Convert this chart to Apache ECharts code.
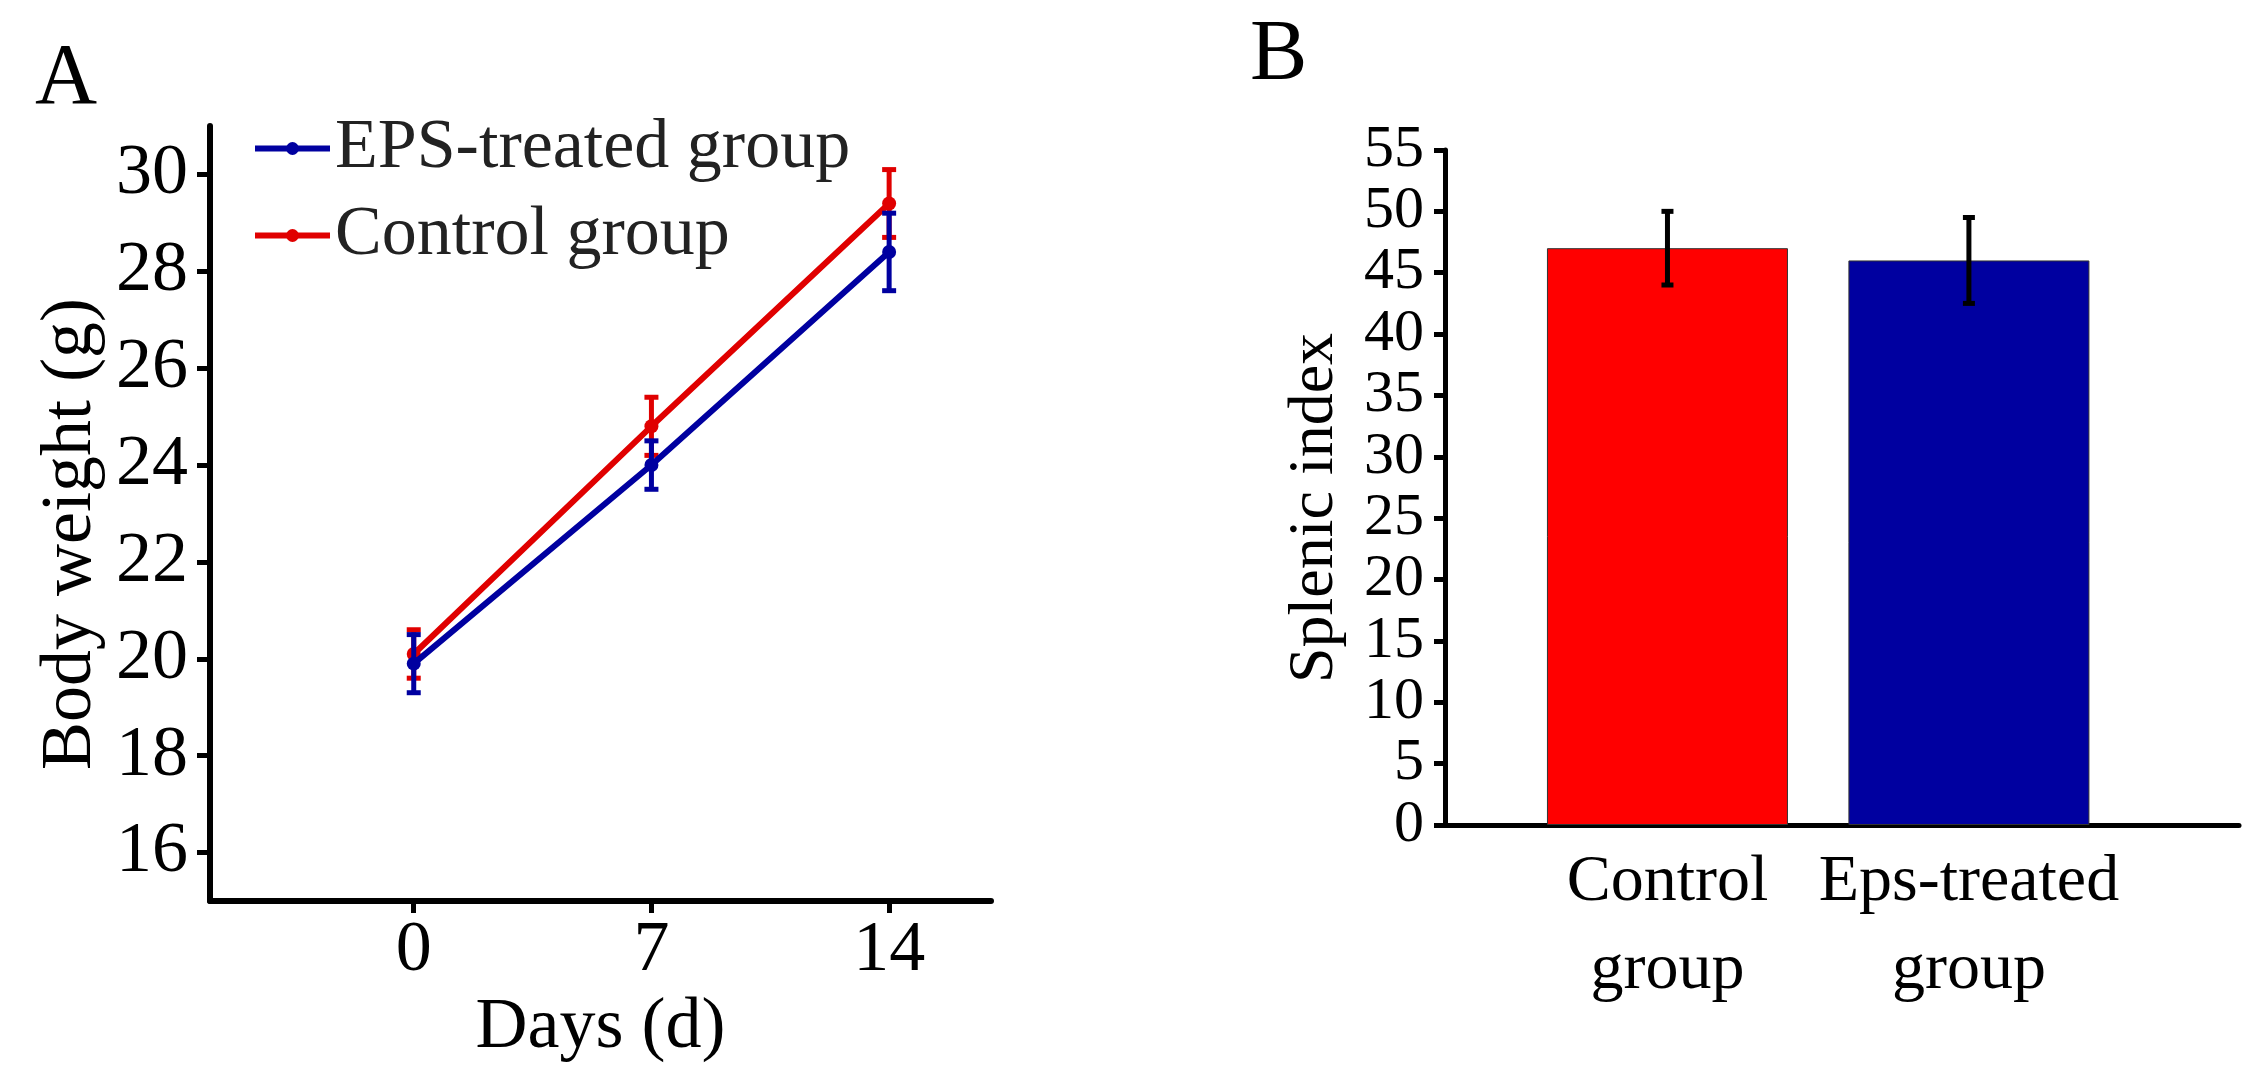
<!DOCTYPE html>
<html>
<head>
    <meta charset="UTF-8">
    <title>Body weight and splenic index</title>
    <style>
        html, body { margin: 0; padding: 0; background: #fff; }
    </style>
</head>
<body>
    <div id="main" style="width: 2262px;height:1080px;"></div>
    <script src="https://cdn.jsdelivr.net/npm/echarts@6.0.0/dist/echarts.min.js"></script>
    <script type="text/javascript">
        // panel A: body weight over time
        const days = [0, 7, 14];
        const epsMean = [19.9, 24.0, 28.4];
        const epsErr = [0.6, 0.5, 0.8];
        const ctrlMean = [20.1, 24.8, 29.4];
        const ctrlErr = [0.5, 0.6, 0.7];
        const weightTicks = [16, 18, 20, 22, 24, 26, 28, 30];

        // panel B: splenic index
        const barCats = ['Control\ngroup', 'Eps-treated\ngroup'];
        const barPos = [1, 2];
        const splenicMean = [47, 46];
        const splenicErr = [3, 3.5];

        const FONT = "'Liberation Serif', 'Times New Roman', serif";
        const BLUE = '#0000A0';
        const RED = '#E00000';
        const barColors = ['#FF0000', '#0000A0'];

        // panel A layout and axis ranges
        const gridA = { left: 210, top: 126, width: 781, height: 775 };
        const dayRange = [-6, 17];
        const weightRange = [15, 31];

        var myChart = echarts.init(document.getElementById('main'));

        // ticks of panel A don't start at the axis min, so helper grids
        // lie over the main one just to carry those tick marks
        function yPix(v) {
            return gridA.top + (weightRange[1] - v) / (weightRange[1] - weightRange[0]) * gridA.height;
        }
        function xPix(v) {
            return gridA.left + (v - dayRange[0]) / (dayRange[1] - dayRange[0]) * gridA.width;
        }
        const yTickGrid = {
            left: gridA.left, width: gridA.width,
            top: yPix(weightTicks[weightTicks.length - 1]),
            height: yPix(weightTicks[0]) - yPix(weightTicks[weightTicks.length - 1])
        };
        const xTickGrid = {
            left: xPix(days[0]), width: xPix(days[days.length - 1]) - xPix(days[0]),
            top: gridA.top, height: gridA.height
        };

        // error bar drawn through the axis scales
        function errBar(color, lw, cap) {
            return function (params, api) {
                const x = api.value(0);
                const top = api.coord([x, api.value(2)]);
                const bot = api.coord([x, api.value(1)]);
                const st = { stroke: color, lineWidth: lw };
                return {
                    type: 'group',
                    children: [
                        { type: 'line', shape: { x1: top[0], y1: top[1], x2: bot[0], y2: bot[1] }, style: st },
                        { type: 'line', shape: { x1: top[0] - cap / 2, y1: top[1], x2: top[0] + cap / 2, y2: top[1] }, style: st },
                        { type: 'line', shape: { x1: bot[0] - cap / 2, y1: bot[1], x2: bot[0] + cap / 2, y2: bot[1] }, style: st }
                    ]
                };
            };
        }

        function pairs(xs, ys) { return xs.map((x, i) => [x, ys[i]]); }
        function ranges(xs, m, e) { return xs.map((x, i) => [x, m[i] - e[i], m[i] + e[i]]); }

        const tickStyle = { color: '#000', width: 5 };
        const axisA = { color: '#000', width: 6 };

        let option = {
            animation: false,
            backgroundColor: '#fff',
            title: [
                { text: 'A', left: 35, top: 37, padding: 0, textStyle: { fontFamily: FONT, fontSize: 86, fontWeight: 'normal', color: '#000' } },
                { text: 'B', left: 1250, top: 13, padding: 0, textStyle: { fontFamily: FONT, fontSize: 86, fontWeight: 'normal', color: '#000' } }
            ],
            legend: {
                data: ['EPS-treated group', 'Control group'],
                orient: 'vertical',
                left: 252,
                top: 106,
                padding: 0,
                itemWidth: 75,
                itemHeight: 16,
                itemGap: 2,
                lineStyle: { width: 6 },
                textStyle: { fontFamily: FONT, fontSize: 70, color: '#222', lineHeight: 60, padding: [0, 0, 25, 0] }
            },
            grid: [
                gridA,
                { left: 1445, right: 23, top: 150, bottom: 255 },
                yTickGrid,
                xTickGrid
            ],
            xAxis: [
                {
                    gridIndex: 0, type: 'value', min: dayRange[0], max: dayRange[1],
                    name: 'Days (d)', nameLocation: 'middle', nameGap: 83,
                    nameTextStyle: { fontFamily: FONT, fontSize: 72, color: '#000' },
                    axisLine: { show: true, onZero: false, lineStyle: axisA },
                    axisTick: { show: false },
                    axisLabel: { customValues: days, margin: 14, fontFamily: FONT, fontSize: 72, color: '#000' },
                    splitLine: { show: false }
                },
                {
                    gridIndex: 1, type: 'value', min: 0.262, max: 2.896,
                    axisLine: { show: true, onZero: false, lineStyle: { color: '#000', width: 5 } },
                    axisTick: { show: false },
                    axisLabel: {
                        customValues: barPos, margin: 14, fontFamily: FONT, fontSize: 66, lineHeight: 88, color: '#000',
                        formatter: function (v) { return barCats[barPos.indexOf(v)]; }
                    },
                    splitLine: { show: false }
                },
                { gridIndex: 2, type: 'value', min: 0, max: 1, show: false },
                {
                    // tick carrier for days, its line sits on top of the main x axis line
                    gridIndex: 3, type: 'value', min: days[0], max: days[days.length - 1], interval: days[1] - days[0],
                    axisLine: { show: true, onZero: false, lineStyle: axisA },
                    axisTick: { show: true, length: 12, lineStyle: tickStyle },
                    axisLabel: { show: false },
                    splitLine: { show: false }
                }
            ],
            yAxis: [
                {
                    gridIndex: 0, type: 'value', min: weightRange[0], max: weightRange[1],
                    axisLine: { show: true, onZero: false, lineStyle: axisA },
                    axisTick: { show: false },
                    axisLabel: { customValues: weightTicks, margin: 22, fontFamily: FONT, fontSize: 72, color: '#000' },
                    splitLine: { show: false }
                },
                {
                    gridIndex: 1, type: 'value', min: 0, max: 55, interval: 5,
                    axisLine: { show: true, onZero: false, lineStyle: { color: '#000', width: 5 } },
                    axisTick: { show: true, length: 11, lineStyle: tickStyle },
                    axisLabel: { margin: 21, showMinLabel: true, showMaxLabel: true, fontFamily: FONT, fontSize: 60, color: '#000' },
                    splitLine: { show: false }
                },
                {
                    // tick carrier for body weight, its line sits on top of the main y axis line
                    gridIndex: 2, type: 'value', min: weightTicks[0], max: weightTicks[weightTicks.length - 1],
                    interval: weightTicks[1] - weightTicks[0],
                    axisLine: { show: true, onZero: false, lineStyle: axisA },
                    axisTick: { show: true, length: 13, lineStyle: tickStyle },
                    axisLabel: { show: false },
                    splitLine: { show: false }
                },
                { gridIndex: 3, type: 'value', min: 0, max: 1, show: false }
            ],
            graphic: [
                {
                    type: 'text', x: 71, y: 534, rotation: Math.PI / 2,
                    style: { text: 'Body weight (g)', font: '72px ' + FONT, fill: '#000', align: 'center', verticalAlign: 'middle' }
                },
                {
                    type: 'text', x: 1315, y: 508, rotation: Math.PI / 2,
                    style: { text: 'Splenic index', font: '64px ' + FONT, fill: '#000', align: 'center', verticalAlign: 'middle' }
                }
            ],
            series: [
                {
                    name: 'Control group', type: 'line', xAxisIndex: 0, yAxisIndex: 0,
                    data: pairs(days, ctrlMean),
                    symbol: 'circle', symbolSize: 14,
                    itemStyle: { color: RED }, lineStyle: { color: RED, width: 6 }
                },
                {
                    name: 'ctrlErr', type: 'custom', xAxisIndex: 0, yAxisIndex: 0,
                    data: ranges(days, ctrlMean, ctrlErr),
                    encode: { x: 0, y: [1, 2] },
                    renderItem: errBar(RED, 5, 14), z: 3
                },
                {
                    name: 'EPS-treated group', type: 'line', xAxisIndex: 0, yAxisIndex: 0,
                    data: pairs(days, epsMean),
                    symbol: 'circle', symbolSize: 14,
                    itemStyle: { color: BLUE }, lineStyle: { color: BLUE, width: 6 }, z: 4
                },
                {
                    name: 'epsErr', type: 'custom', xAxisIndex: 0, yAxisIndex: 0,
                    data: ranges(days, epsMean, epsErr),
                    encode: { x: 0, y: [1, 2] },
                    renderItem: errBar(BLUE, 5, 14), z: 5
                },
                {
                    name: 'Splenic index', type: 'bar', xAxisIndex: 1, yAxisIndex: 1,
                    barWidth: 241,
                    data: barPos.map((x, i) => ({
                        value: [x, splenicMean[i]],
                        itemStyle: { color: barColors[i], borderColor: '#333', borderWidth: 1 }
                    }))
                },
                {
                    name: 'splenicErr', type: 'custom', xAxisIndex: 1, yAxisIndex: 1,
                    data: ranges(barPos, splenicMean, splenicErr),
                    encode: { x: 0, y: [1, 2] },
                    renderItem: errBar('#000', 5, 12), z: 5
                }
            ]
        };

        myChart.setOption(option);
    </script>
</body>
</html>
